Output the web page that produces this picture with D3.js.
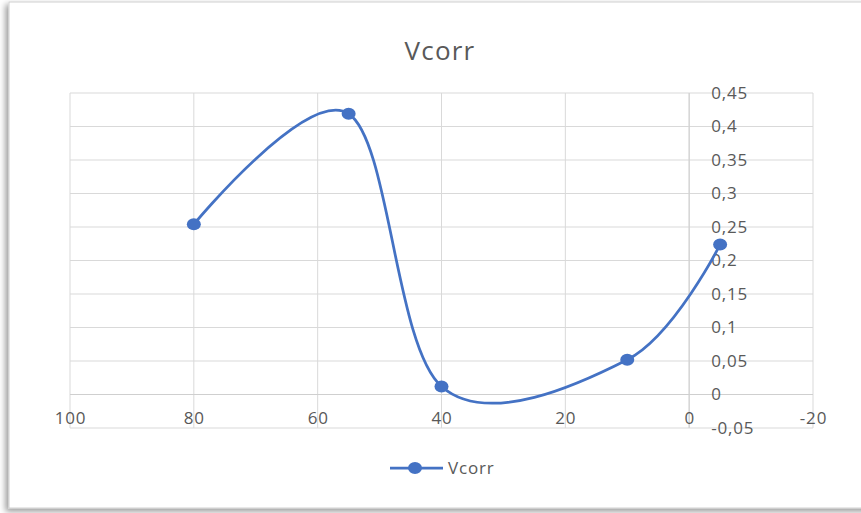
<!DOCTYPE html>
<html>
<head>
<meta charset="utf-8">
<script src="https://cdn.jsdelivr.net/npm/d3@7"></script>
<style>
    body { margin: 0; background: #fff; }
    svg text { font-family: "Open Sans", "Noto Sans", sans-serif; fill: #595959; }
</style>
</head>
<body>
<div id="chart"></div>
<script>
// series values
const xValues = [80, 55, 40, 10, -5];
const yValues = [0.254, 0.419, 0.012, 0.052, 0.224];
const xTicks = [100, 80, 60, 40, 20, 0, -20];
const yTicks = [-0.05, 0, 0.05, 0.1, 0.15, 0.2, 0.25, 0.3, 0.35, 0.4, 0.45];
const seriesName = "Vcorr";

const width = 861, height = 513;
const margin = { top: 93, right: 48, bottom: 85, left: 70 };

const svg = d3.select("#chart").append("svg")
    .attr("width", width)
    .attr("height", height);

// drop shadow for the chart frame
const defs = svg.append("defs");
const f = defs.append("filter").attr("id", "shadow")
    .attr("x", "-5%").attr("y", "-5%").attr("width", "110%").attr("height", "110%");
f.append("feDropShadow")
    .attr("dx", -3).attr("dy", 3).attr("stdDeviation", 3)
    .attr("flood-color", "#000").attr("flood-opacity", 0.4);

svg.append("rect")
    .attr("x", 9).attr("y", 2)
    .attr("width", 870).attr("height", 506)
    .attr("fill", "#fff")
    .attr("stroke", "#d0d0d0")
    .attr("filter", "url(#shadow)");

const x = d3.scaleLinear()
    .domain([100, -20])
    .range([margin.left, width - margin.right]);

const y = d3.scaleLinear()
    .domain([-0.05, 0.45])
    .range([height - margin.bottom, margin.top]);

const fmt = d => d3.format("~g")(+d.toFixed(2)).replace(".", ",").replace("−", "-");

// gridlines
svg.append("g").selectAll("line.h")
    .data(yTicks).join("line")
    .attr("x1", x(100)).attr("x2", x(-20))
    .attr("y1", d => y(d)).attr("y2", d => y(d))
    .attr("stroke", "#d9d9d9").attr("stroke-width", 1);

svg.append("g").selectAll("line.v")
    .data(xTicks).join("line")
    .attr("x1", d => x(d)).attr("x2", d => x(d))
    .attr("y1", y(-0.05)).attr("y2", y(0.45))
    .attr("stroke", "#d9d9d9").attr("stroke-width", 1);

// axes crossing at zero
svg.append("line")
    .attr("x1", x(100)).attr("x2", x(-20))
    .attr("y1", y(0)).attr("y2", y(0))
    .attr("stroke", "#cfcfcf");
svg.append("line")
    .attr("x1", x(0)).attr("x2", x(0))
    .attr("y1", y(-0.05)).attr("y2", y(0.45))
    .attr("stroke", "#cfcfcf");

// x tick labels
const xAxis = d3.axisBottom(x).tickValues(xTicks).tickSize(0).tickPadding(17)
    .tickFormat(d => String(d));
svg.append("g")
    .attr("transform", "translate(0," + y(0) + ")")
    .call(xAxis)
    .call(g => g.select(".domain").remove())
    .selectAll("text")
    .style("font-size", "17px")
    .style("letter-spacing", "0.8px")
    .style("fill", "#595959");

// y tick labels, right of the axis at x = 0
const yAxis = d3.axisRight(y).tickValues(yTicks).tickSize(0).tickPadding(22)
    .tickFormat(fmt);
svg.append("g")
    .attr("transform", "translate(" + x(0) + ",0)")
    .call(yAxis)
    .call(g => g.select(".domain").remove())
    .selectAll("text")
    .style("font-size", "17px")
    .style("letter-spacing", "0.8px")
    .style("fill", "#595959");

// smooth line
const pts = xValues.map((d, i) => [d, yValues[i]]);
const line = d3.line()
    .x(d => x(d[0]))
    .y(d => y(d[1]))
    .curve(d3.curveCardinal.tension(0));

svg.append("path")
    .datum(pts)
    .attr("fill", "none")
    .attr("stroke", "#4472C4")
    .attr("stroke-width", 2.75)
    .attr("d", line);

svg.append("g").selectAll("ellipse")
    .data(pts).join("ellipse")
    .attr("cx", d => x(d[0]))
    .attr("cy", d => y(d[1]))
    .attr("rx", 7).attr("ry", 6)
    .attr("fill", "#4472C4");

// title
svg.append("text")
    .attr("x", 440).attr("y", 60)
    .attr("text-anchor", "middle")
    .style("font-size", "26px")
    .style("letter-spacing", "1.2px")
    .text(seriesName);

// legend
const lg = svg.append("g").attr("transform", "translate(390,468)");
lg.append("line").attr("x1", 0).attr("x2", 53)
    .attr("stroke", "#4472C4").attr("stroke-width", 2.75);
lg.append("ellipse").attr("cx", 25).attr("cy", 0).attr("rx", 7).attr("ry", 6)
    .attr("fill", "#4472C4");
lg.append("text").attr("x", 58).attr("y", 6)
    .style("font-size", "17px")
    .style("letter-spacing", "0.8px")
    .text(seriesName);
</script>
</body>
</html>
